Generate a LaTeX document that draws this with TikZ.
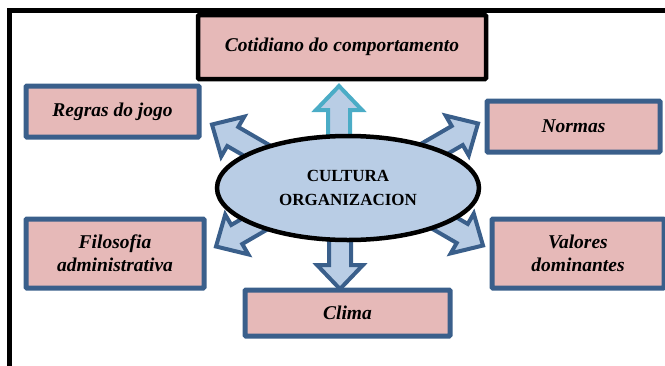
\documentclass[tikz,border=0pt]{standalone}
\usepackage{fontspec}
\setmainfont{Liberation Serif}
\usetikzlibrary{calc,shapes.geometric,backgrounds}
\definecolor{cfpink}{RGB}{230,185,184}
\definecolor{cfblue}{RGB}{58,95,139}
\definecolor{cflight}{RGB}{185,205,229}
\definecolor{cfcyan}{RGB}{75,172,198}

% fat block arrow from #2 to #3
\newcommand{\fatarrow}[3][fatline]{%
  \coordinate (hb) at ($(#3)!24pt!(#2)$);
  \draw[#1] ($(#2)!11pt!90:(#3)$) -- ($(hb)!11pt!90:(#3)$) -- ($(hb)!23pt!90:(#3)$)
    -- (#3) -- ($(hb)!23pt!-90:(#3)$) -- ($(hb)!11pt!-90:(#3)$) -- ($(#2)!11pt!-90:(#3)$) -- cycle;}

\begin{document}
\begin{tikzpicture}[
    x=1pt,y=-1pt,
    cfbox/.style={draw=cfblue,line width=5pt,fill=cfpink,rounded corners=1pt,align=center,
      inner sep=0pt,font=\fontsize{19.5}{23}\selectfont\bfseries\itshape},
    cfcore/.style={ellipse,draw=black,line width=4.5pt,fill=cflight,align=center,inner sep=0pt,
      minimum width=262pt,minimum height=104pt,font=\fontsize{17}{24}\selectfont\bfseries},
    fatline/.style={draw=cfblue,line width=4pt,fill=cflight},
    fatcyan/.style={draw=cfcyan,line width=4pt,fill=cflight}
  ]
    \useasboundingbox (0,0) rectangle (665,365);
    \clip (0,0) rectangle (665,365);
    \draw[line width=5pt] (720,10.5) -| (9.5,420);

    \node[cfbox,draw=black,line width=4.5pt,minimum width=288pt,minimum height=64pt] (cot) at (342,47) {Cotidiano do comportamento};
    \node[cfbox,minimum width=173pt,minimum height=51pt] (reg) at (112.5,111.5) {Regras do jogo};
    \node[cfbox,minimum width=173pt,minimum height=51pt] (nor) at (573.5,126.5) {Normas};
    \node[cfbox,minimum width=178pt,minimum height=69pt] (fil) at (115,253.5) {Filosofia\\administrativa};
    \node[cfbox,minimum width=172pt,minimum height=69pt] (val) at (578,253.5) {Valores\\dominantes};
    \node[cfbox,minimum width=205pt,minimum height=46pt] (cli) at (347.5,313) {Clima};

    \node[cfcore] (ell) at (348,188) {CULTURA\\ORGANIZACION};

    % arrows out of the ellipse
    \coordinate (tUp) at (339,86);
    \coordinate (tDn) at (340,289);
    \coordinate (tUL) at (212,124.5);
    \coordinate (tUR) at (478,123.5);
    \coordinate (tLL) at (216,246.5);
    \coordinate (tLR) at (483,245.5);
    \begin{scope}[on background layer]
      \fatarrow[fatcyan]{$(ell.center)+(-9,-28)$}{tUp}
      \fatarrow{$(ell.center)+(-8,27)$}{tDn}
      \fatarrow{$(ell.center)+(-67,-23.5)$}{tUL}
      \fatarrow{$(ell.center)+(61,-24.5)$}{tUR}
      \fatarrow{$(ell.center)+(-63,18.5)$}{tLL}
      \fatarrow{$(ell.center)+(66,17.5)$}{tLR}
    \end{scope}
  \end{tikzpicture}
\end{document}
